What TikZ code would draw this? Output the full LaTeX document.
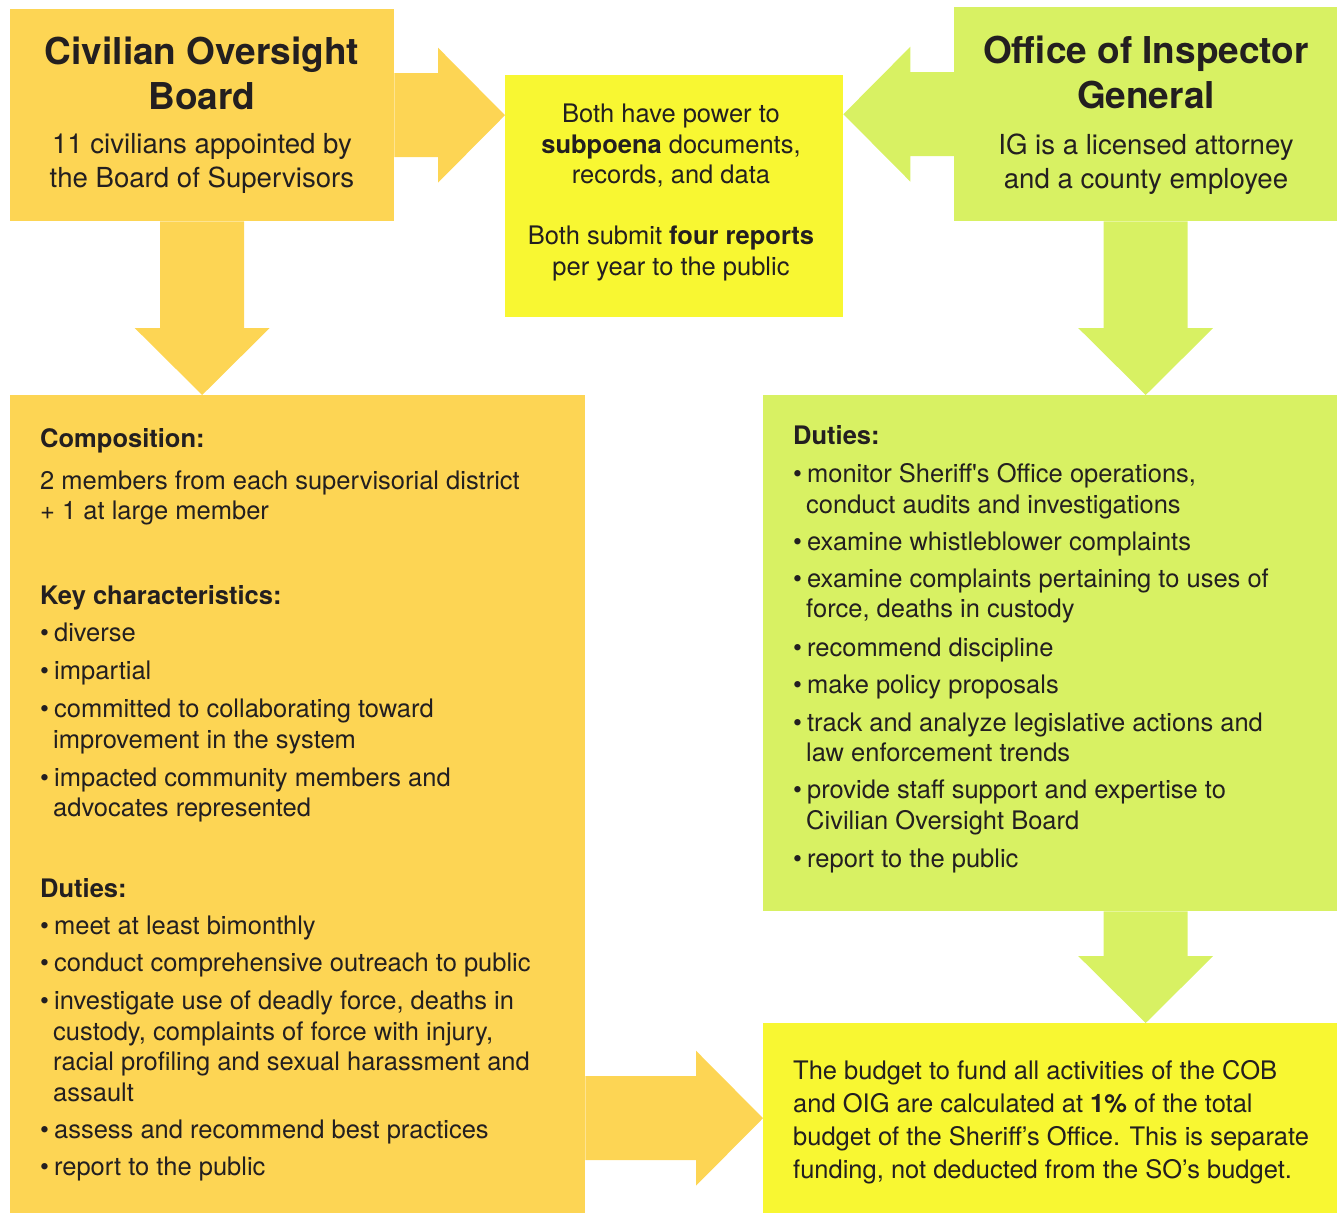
\documentclass[tikz,border=0pt]{standalone}
\usepackage{fontspec}
\setmainfont{TeX Gyre Heros}
\usetikzlibrary{calc}
\definecolor{cobfill}{RGB}{253,213,84}
\definecolor{oigfill}{RGB}{216,241,99}
\definecolor{jointfill}{RGB}{248,247,50}
\definecolor{ink}{RGB}{35,31,32}
\tikzset{
  panel/.style={draw=none, inner sep=0pt, anchor=north west},
  cobpanel/.style={panel, fill=cobfill},
  oigpanel/.style={panel, fill=oigfill},
  jointpanel/.style={panel, fill=jointfill},
  % multi-line nodes sit on the baseline of their last line
  headtext/.style={align=center, inner sep=0pt, text=ink, anchor=base,
                   font=\bfseries\fontsize{37}{45}\selectfont},
  subtext/.style={align=center, inner sep=0pt, text=ink, anchor=base,
                  font=\fontsize{27.6}{33.5}\selectfont},
  jointtext/.style={subtext, font=\fontsize{25.5}{30.5}\selectfont},
  listtext/.style={align=left, inner sep=0pt, text=ink, anchor=base west,
                   font=\fontsize{25.5}{30.5}\selectfont},
}
% bullet and hanging indent for the duty lists
\newcommand{\bul}{\textbullet\hspace{5pt}}
\newcommand{\cont}{\hspace*{13pt}}
% fat block arrow: fill, tail, tip, direction (x,y)
\newcommand{\fatarrow}[5]{%
  \fill[#1] ($(#2)+({-42*(#5)},{42*(#4)})$)
    -- ($(#3)+({-67*(#4)-42*(#5)},{-67*(#5)+42*(#4)})$)
    -- ($(#3)+({-67*(#4)-67.5*(#5)},{-67*(#5)+67.5*(#4)})$)
    -- (#3)
    -- ($(#3)+({-67*(#4)+67.5*(#5)},{-67*(#5)-67.5*(#4)})$)
    -- ($(#3)+({-67*(#4)+42*(#5)},{-67*(#5)-42*(#4)})$)
    -- ($(#2)+({42*(#5)},{-42*(#4)})$) -- cycle;}

\begin{document}
\begin{tikzpicture}[x=1pt, y=-1pt]
  \useasboundingbox (0,0) rectangle (1337,1213);

  % panels
  \node[cobpanel, minimum width=384pt, minimum height=212pt] (cob) at (10,9) {};
  \node[oigpanel, minimum width=383pt, minimum height=214pt] (oig) at (954,7) {};
  \node[jointpanel, minimum width=338pt, minimum height=242pt] (joint) at (505,75) {};
  \node[cobpanel, minimum width=575pt, minimum height=818pt] (cobmain) at (10,395) {};
  \node[oigpanel, minimum width=574pt, minimum height=516pt] (oigmain) at (763,395) {};
  \node[jointpanel, minimum width=574pt, minimum height=190pt] (budget) at (763,1023) {};

  % arrows
  \fatarrow{cobfill}{cob.east}{cob.east -| joint.west}{1}{0}
  \fatarrow{oigfill}{oig.west}{oig.west -| joint.east}{-1}{0}
  \fatarrow{cobfill}{cob.south}{cob.south |- cobmain.north}{0}{1}
  \fatarrow{oigfill}{oig.south}{oig.south |- oigmain.north}{0}{1}
  \fatarrow{oigfill}{oig.south |- oigmain.south}{oig.south |- budget.north}{0}{1}
  \fatarrow{cobfill}{cobmain.east |- budget.west}{budget.west}{1}{0}

  % headings
  \node[headtext] (cobtitle) at (202,109) {Civilian Oversight\\Board};
  \node[subtext] (cobsub) at (202,187) {11 civilians appointed by\\the Board of Supervisors};
  \node[headtext] (oigtitle) at (1146,108) {Office of Inspector\\General};
  \node[subtext] (oigsub) at (1146,188) {IG is a licensed attorney\\and a county employee};

  \node[jointtext] (jointtxt) at (671,275)
    {Both have power to\\\textbf{subpoena} documents,\\records, and data\\[30.5pt]
     Both submit \textbf{four reports}\\per year to the public};

  % COB details
  \node[listtext] (coblist) at (40,1175)
    {\textbf{Composition:}\\[11.5pt]
     2 members from each supervisorial district\\
     + 1 at large member\\[54.5pt]
     \textbf{Key characteristics:}\\[6.5pt]
     \bul diverse\\[7.5pt]
     \bul impartial\\[7.5pt]
     \bul committed to collaborating toward\\
     \cont improvement in the system\\[7.5pt]
     \bul impacted community members and\\
     \cont advocates represented\\[50.5pt]
     \textbf{Duties:}\\[6.5pt]
     \bul meet at least bimonthly\\[6.5pt]
     \bul conduct comprehensive outreach to public\\[7.5pt]
     \bul investigate use of deadly force, deaths in\\
     \cont custody, complaints of force with injury,\\
     \cont racial profiling and sexual harassment and\\
     \cont assault\\[6.5pt]
     \bul assess and recommend best practices\\[6.5pt]
     \bul report to the public};

  % OIG details
  \node[listtext] (oiglist) at (793,867)
    {\textbf{Duties:}\\[7.5pt]
     \bul monitor Sheriff\textquotesingle s Office operations,\\
     \cont conduct audits and investigations\\[6.5pt]
     \bul examine whistleblower complaints\\[6.5pt]
     \bul examine complaints pertaining to uses of\\
     \cont force, deaths in custody\\[8pt]
     \bul recommend discipline\\[6.5pt]
     \bul make policy proposals\\[7.5pt]
     \bul track and analyze legislative actions and\\
     \cont law enforcement trends\\[6.5pt]
     \bul provide staff support and expertise to\\
     \cont Civilian Oversight Board\\[7.5pt]
     \bul report to the public};

  % funding
  \node[listtext, font=\fontsize{25.5}{32.7}\selectfont] (budgettxt) at (793,1178)
    {The budget to fund all activities of the COB\\
     and OIG are calculated at \textbf{1\%} of the total\\
     budget of the Sheriff’s Office. This is separate\\
     funding, not deducted from the SO’s budget.};
\end{tikzpicture}
\end{document}
